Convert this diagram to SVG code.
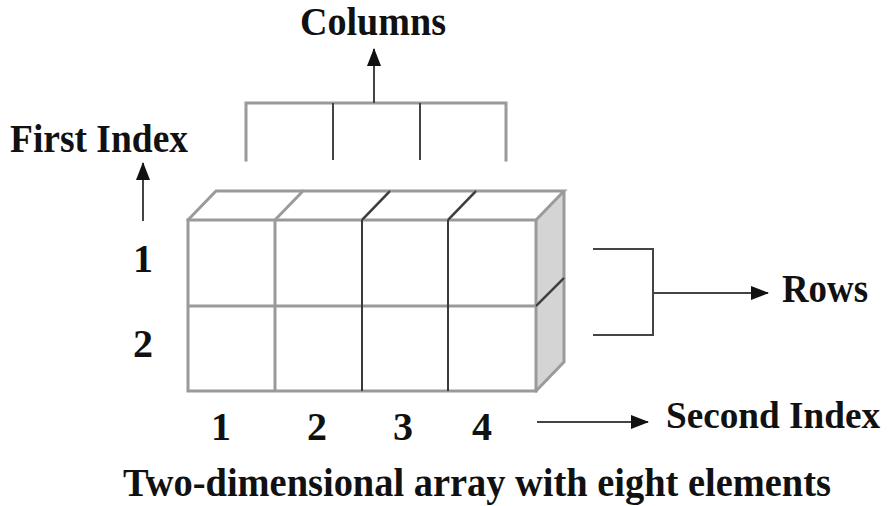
<svg xmlns="http://www.w3.org/2000/svg" width="889" height="506" viewBox="0 0 889 506">
<style>
text{font-family:'Liberation Serif','Times New Roman',serif;font-weight:700;font-size:40px;fill:#111}
.s{font-size:38px}
.g{stroke:#9a9a9a;stroke-width:3;fill:none;stroke-linecap:square}
.d{stroke:#3a3a3a;stroke-width:2;fill:none}
.c{stroke:#444;stroke-width:2;fill:none}
</style>
<defs>
<marker id="ah" viewBox="0 0 18 14" refX="17" refY="7" markerWidth="18" markerHeight="14" markerUnits="userSpaceOnUse" orient="auto">
<path d="M0,0 L18,7 L0,14 z" fill="#111"/>
</marker>
</defs>
<rect width="889" height="506" fill="#fff"/>
<g id="array">
<polygon points="536,220 564,191 564,362 536,391" fill="#d4d4d4"/>
<path class="g" d="M188,220 L216,191 L564,191 L536,220 M275,220 L303,191 M362,220 L390,191 M448,220 L476,191 M564,191 L564,362 L536,391 M536,306 L564,278"/>
<path class="g" d="M188,220 L536,220 L536,391 L188,391 Z M188,306 L536,306 M275,220 L275,391"/>
<path class="d" d="M362,220 L362,391 M448,220 L448,391 M390,191 L362,220 M476,191 L448,220 M536,306 L564,278"/>
</g>
<g id="columns-label"><text x="373" y="35" text-anchor="middle" textLength="146" lengthAdjust="spacingAndGlyphs">Columns</text></g>
<g id="first-index-label"><text x="10" y="152" textLength="178" lengthAdjust="spacingAndGlyphs">First Index</text></g>
<g id="row-numbers">
<text x="143" y="272" text-anchor="middle">1</text>
<text x="143" y="357" text-anchor="middle">2</text>
</g>
<g id="col-numbers">
<text x="221" y="440" text-anchor="middle">1</text>
<text x="317" y="440" text-anchor="middle">2</text>
<text x="403" y="440" text-anchor="middle">3</text>
<text x="482" y="440" text-anchor="middle">4</text>
</g>
<g id="rows-label"><text x="782" y="302" textLength="86" lengthAdjust="spacingAndGlyphs">Rows</text></g>
<g id="second-index-label"><text class="s" x="666" y="428" textLength="214" lengthAdjust="spacingAndGlyphs">Second Index</text></g>
<g id="caption"><text x="477" y="496" text-anchor="middle" textLength="708" lengthAdjust="spacingAndGlyphs">Two-dimensional array with eight elements</text></g>
<g id="connectors">
<path class="g" d="M246,103 L506,103 M246,103 L246,160 M506,103 L506,160"/>
<path class="c" d="M333,103 L333,160 M420,103 L420,160"/>
<path class="c" d="M374,103 L374,49" marker-end="url(#ah)"/>
<path class="c" d="M143,221 L143,163" marker-end="url(#ah)"/>
<path class="c" d="M593,249 L653,249 L653,335 L593,335"/>
<path class="c" d="M653,293 L768,293" marker-end="url(#ah)"/>
<path class="c" d="M537,422 L648,422" marker-end="url(#ah)"/>
</g>
</svg>
